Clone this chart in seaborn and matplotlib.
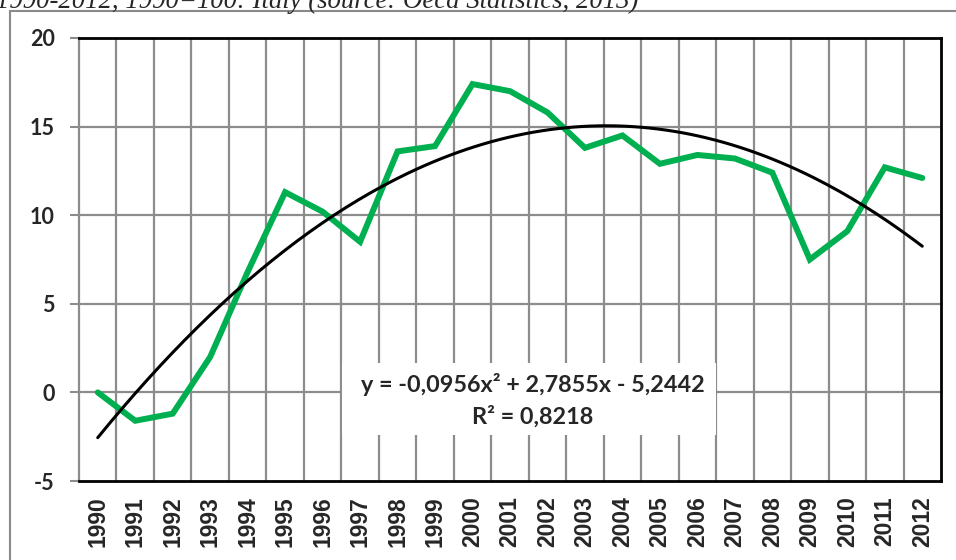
import numpy as np
import pandas as pd
import matplotlib
matplotlib.use("Agg")
import matplotlib.pyplot as plt
import seaborn as sns
from matplotlib.patches import Rectangle

years = [str(y) for y in range(1990, 2013)]
values = [0.0, -1.6, -1.2, 2.0, 6.8, 11.3, 10.2, 8.5, 13.6, 13.9, 17.4, 17.0,
          15.8, 13.8, 14.5, 12.9, 13.4, 13.2, 12.4, 7.5, 9.1, 12.7, 12.1]
trend_coef = [-0.0956, 2.7855, -5.2442]
y_ticks = [-5, 0, 5, 10, 15, 20]
equation = "y = -0,0956x² + 2,7855x - 5,2442"
r2_text = "R² = 0,8218"
title_text = "1990-2012, 1990=100: Italy (source: Oecd Statistics, 2013)"

sns.set_style("white")
plt.rcParams['font.family'] = ['Lato', 'DejaVu Sans']

W, H = 956, 560
fig = plt.figure(figsize=(W / 100, H / 100), dpi=100)
fig.patch.set_facecolor("white")

# outer frame
fig.add_artist(Rectangle((10 / W, -0.1), 1.2, (H - 11) / H + 0.1,
                         transform=fig.transFigure, fill=False,
                         edgecolor="#8a8a8a", lw=1.5))
fig.text(-4 / W, 1 - 8 / H, title_text, family="Liberation Serif",
         style="italic", fontsize=19.3, va="baseline", ha="left")

ax = fig.add_axes([79 / W, (H - 481) / H, (941 - 79) / W, (481 - 38) / H])
ax.set_facecolor("white")

pos = np.arange(len(years))
df = pd.DataFrame({"pos": pos, "value": values})
sns.lineplot(data=df, x="pos", y="value", ax=ax, color="#00B050", lw=4.3,
             zorder=4, solid_joinstyle="miter")

xs = np.linspace(0, len(years) - 1, 200)
X = xs + 1
tr = pd.DataFrame({"pos": xs, "trend": np.polyval(trend_coef, X)})
sns.lineplot(data=tr, x="pos", y="trend", ax=ax, color="black", lw=2.2, zorder=5)

ax.set_xlim(-0.5, len(years) - 0.5)
ax.set_ylim(-5, 20)
ax.set_yticks(y_ticks)
ax.set_yticklabels([str(t) for t in y_ticks], fontsize=15.5, fontweight="bold")
ax.set_xticks(pos)
ax.set_xticklabels(years, rotation=90, fontsize=16.5, fontweight="bold",
                   family=["Liberation Sans", "DejaVu Sans"])
ax.set_xlabel("")
ax.set_ylabel("")

grid_c = "#8c8c8c"
for b in np.arange(0.5, len(years) - 0.5, 1):
    ax.axvline(b, color=grid_c, lw=1.6, zorder=1)
for t in y_ticks[1:-1]:
    ax.axhline(t, color=grid_c, lw=1.6, zorder=1)

ax.tick_params(axis="y", length=6.5, width=1.5, color=grid_c, pad=11, left=True)
ax.tick_params(axis="x", length=0, pad=11)

for s in ["top", "right", "bottom"]:
    ax.spines[s].set_color("black")
    ax.spines[s].set_linewidth(2)
ax.spines["left"].set_color(grid_c)
ax.spines["left"].set_linewidth(1.6)

# equation box
ax.add_patch(Rectangle((6.52, -2.40), 16.5 - 6.52, 1.66 + 2.40,
                       facecolor="white", edgecolor="none", zorder=3))
ax.text(11.61, 0.42, equation, ha="center", va="center", fontsize=16.8,
        fontweight="bold", zorder=6)
ax.text(11.61, -1.39, r2_text, ha="center", va="center", fontsize=16.8,
        fontweight="bold", zorder=6)

fig.savefig("out.png", dpi=100)
